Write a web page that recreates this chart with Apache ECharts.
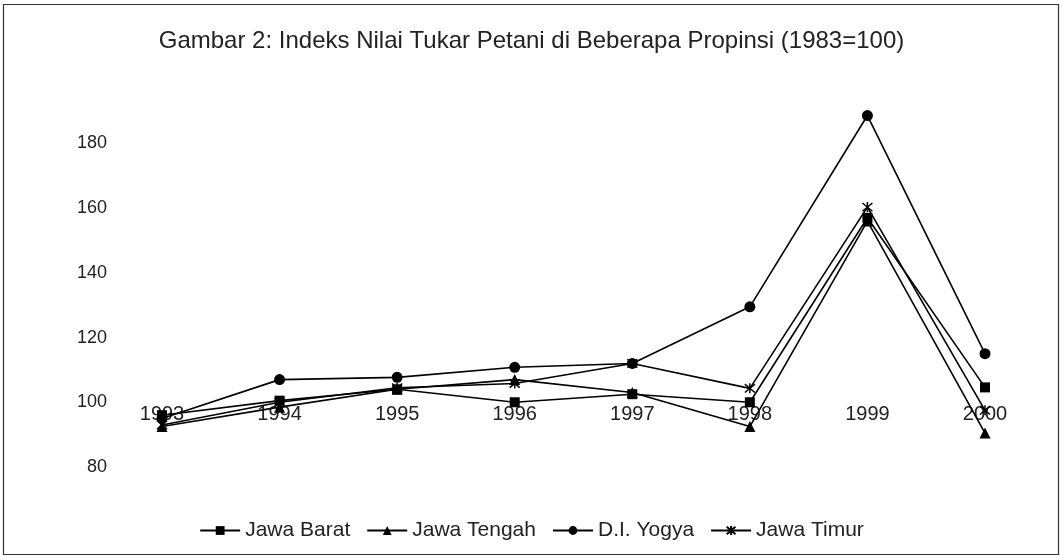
<!DOCTYPE html>
<html><head><meta charset="utf-8">
<script src="https://cdn.jsdelivr.net/npm/echarts@6/dist/echarts.min.js"></script>
<style>html,body{margin:0;padding:0;background:#fff}#c{width:1063px;height:560px}</style>
</head><body><div id="c"></div>
<script>
const years = ['1993','1994','1995','1996','1997','1998','1999','2000'];
const jawaBarat  = [96, 100.5, 104, 100, 102.5, 100, 157, 104.6];
const jawaTengah = [92.5, 98.5, 104, 107, 103, 92.5, 156, 90.5];
const yogya      = [95, 107, 107.7, 110.8, 112, 129.5, 188.6, 115];
const jawaTimur  = [93, 100, 104.5, 105.8, 112, 104.3, 160.3, 97.5];
const yTicks = [80, 100, 120, 140, 160, 180];

const font = '"Liberation Sans", Arial, sans-serif';
const starPath = 'path://M0,0L10,10M10,0L0,10M5,-1L5,11';
function mk(name, data, symbol, size) {
  return {
    name, type: 'line', data, symbol, symbolSize: size, clip: false,
    lineStyle: { color: '#000', width: 1.6 },
    itemStyle: { color: '#000', borderColor: '#000', borderWidth: symbol === starPath ? 1.5 : 0 },
    emphasis: { disabled: true }, animation: false
  };
}
const chart = echarts.init(document.getElementById('c'));
chart.setOption({
  animation: false,
  backgroundColor: '#fff',
  title: { text: 'Gambar 2: Indeks Nilai Tukar Petani di Beberapa Propinsi (1983=100)', left: 'center', top: 24,
    textStyle: { fontFamily: font, fontSize: 24, fontWeight: 'normal', color: '#222' } },
  graphic: [{ type: 'rect', shape: { x: 3.5, y: 4.5, width: 1055, height: 550 }, style: { fill: 'none', stroke: '#333', lineWidth: 1.2 }, silent: true }],
  legend: { bottom: 14, left: 'center', itemWidth: 40, itemHeight: 11, itemGap: 16,
    textStyle: { fontFamily: font, fontSize: 21, color: '#222' },
    data: ['Jawa Barat', 'Jawa Tengah', 'D.I. Yogya', 'Jawa Timur'] },
  grid: { left: 162, right: 78, top: 111, bottom: 93 },
  xAxis: { type: 'category', data: years, boundaryGap: false, offset: -65,
    axisLine: { show: false }, axisTick: { show: false }, splitLine: { show: false },
    axisLabel: { margin: 2, fontFamily: font, fontSize: 20, color: '#222' } },
  yAxis: { type: 'value', min: 80, max: 190, interval: 20,
    axisLine: { show: false }, axisTick: { show: false }, splitLine: { show: false },
    axisLabel: { margin: 55, showMaxLabel: false, fontFamily: font, fontSize: 18, color: '#222',
      formatter: v => yTicks.includes(v) ? String(v) : '' } },
  series: [
    mk('Jawa Barat', jawaBarat, 'rect', 10),
    mk('Jawa Tengah', jawaTengah, 'triangle', 11),
    mk('D.I. Yogya', yogya, 'circle', 11),
    mk('Jawa Timur', jawaTimur, starPath, 10)
  ]
});
</script></body></html>
